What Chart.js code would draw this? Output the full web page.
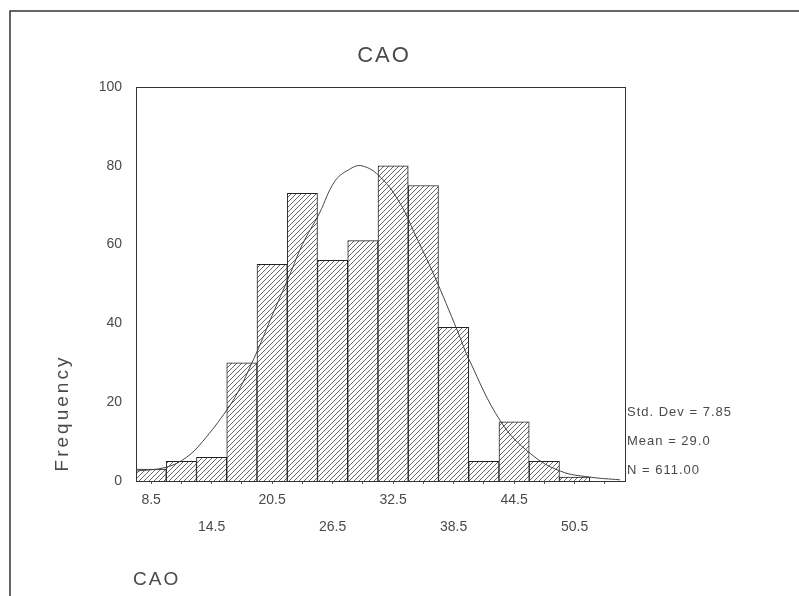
<!DOCTYPE html>
<html>
<head>
<meta charset="utf-8">
<script src="https://cdn.jsdelivr.net/npm/chart.js@4"></script>
<style>
  body { margin: 0; background: #fff; }
  #wrap { width: 799px; height: 596px; }
</style>
</head>
<body>
<div id="wrap"><canvas id="histChart" width="799" height="596"></canvas></div>
<script>
// bin midpoints and counts
const bins = [8.5, 11.5, 14.5, 17.5, 20.5, 23.5, 26.5, 29.5, 32.5, 35.5, 38.5, 41.5, 44.5, 47.5, 50.5, 53.5];
const counts = [3, 5, 6, 30, 55, 73, 56, 61, 80, 75, 39, 5, 15, 5, 1, 0];

// points
const curveX = [7, 10, 12, 13.6, 16, 17.2, 18.5, 19.2, 20.5, 22.2, 23.5, 25.2, 26.7, 28.1, 29.4, 31.3, 33.3, 34.6, 36.6, 38.9, 40, 43.2, 46.1, 49.1, 52, 55];
const curveY = [2.5, 3.5, 6, 10, 18, 23, 30, 34, 42, 52, 60, 68, 76, 79, 80, 77, 70, 63, 52, 38, 31, 15, 7, 2.5, 1, 0.3];

const yTicks = [0, 20, 40, 60, 80, 100];
const statLines = ["Std. Dev = 7.85", "Mean = 29.0", "N = 611.00"];

const FONT = "'Liberation Sans', Arial, sans-serif";
const TEXT = "#4a4a4a";

function hatchPattern() {
  const c = document.createElement("canvas");
  c.width = 5; c.height = 5;
  const g = c.getContext("2d");
  g.fillStyle = "#fff";
  g.fillRect(0, 0, 5, 5);
  g.strokeStyle = "#666";
  g.lineWidth = 1;
  g.beginPath();
  g.moveTo(0, 5); g.lineTo(5, 0);
  g.moveTo(-1, 1); g.lineTo(1, -1);
  g.moveTo(4, 6); g.lineTo(6, 4);
  g.stroke();
  return g.createPattern(c, "repeat");
}

const decor = {
  id: "decor",
  afterDraw(chart) {
    const ctx = chart.ctx;
    const a = chart.chartArea;
    ctx.save();
    // page frame
    ctx.strokeStyle = "#333";
    ctx.lineWidth = 1.5;
    ctx.beginPath();
    ctx.moveTo(10, 596); ctx.lineTo(10, 11); ctx.lineTo(799, 11);
    ctx.stroke();
    // plot frame
    ctx.lineWidth = 1;
    ctx.strokeRect(a.left + 0.5, a.top + 0.5, a.right - a.left, a.bottom - a.top);

    ctx.fillStyle = TEXT;
    ctx.textAlign = "center";
    ctx.textBaseline = "middle";
    ctx.font = "22px " + FONT;
    ctx.letterSpacing = "2px";
    ctx.fillText("CAO", 384, 56);

    ctx.textAlign = "left";
    ctx.font = "19px " + FONT;
    ctx.fillText("CAO", 133, 580);

    ctx.save();
    ctx.translate(63, 413);
    ctx.rotate(-Math.PI / 2);
    ctx.textAlign = "center";
    ctx.font = "19px " + FONT;
    ctx.letterSpacing = "3px";
    ctx.fillText("Frequency", 0, 0);
    ctx.restore();

    ctx.font = "13px " + FONT;
    ctx.letterSpacing = "1px";
    ctx.textAlign = "left";
    statLines.forEach((s, i) => ctx.fillText(s, 627, 412 + i * 29));
    ctx.restore();
  }
};

new Chart(document.getElementById("histChart"), {
  data: {
    datasets: [
      {
        type: "line",
        data: curveX.map((x, i) => ({ x: x, y: curveY[i] })),
        borderColor: "#444",
        borderWidth: 1,
        pointRadius: 0,
        tension: 0.4,
        order: 0
      },
      {
        type: "bar",
        data: bins.map((b, i) => ({ x: b, y: counts[i] })),
        backgroundColor: hatchPattern(),
        borderColor: "#222",
        borderWidth: 1,
        barPercentage: 1,
        categoryPercentage: 1,
        order: 1
      }
    ]
  },
  options: {
    responsive: false,
    animation: false,
    layout: { padding: { top: 87, right: 174, left: 0, bottom: 0 } },
    plugins: { legend: { display: false }, tooltip: { enabled: false } },
    scales: {
      x: {
        type: "linear",
        min: 7,
        max: 55.5,
        offset: false,
        afterFit: s => { s.height = 115; },
        afterBuildTicks: s => { s.ticks = bins.map(v => ({ value: v })); },
        border: { color: "#333" },
        grid: { offset: false, drawOnChartArea: false, tickLength: 3, color: "#555" },
        ticks: {
          autoSkip: false,
          maxRotation: 0,
          padding: 3,
          color: TEXT,
          font: { family: FONT, size: 14, lineHeight: 1.9 },
          callback: (v, i) => i % 4 === 0 ? String(bins[i]) : (i % 4 === 2 ? ["", String(bins[i])] : "")
        }
      },
      y: {
        min: 0,
        max: 100,
        afterFit: s => { s.width = 136; },
        afterBuildTicks: s => { s.ticks = yTicks.map(v => ({ value: v })); },
        border: { color: "#333" },
        grid: { display: false, drawTicks: false },
        ticks: {
          padding: 14,
          color: TEXT,
          font: { family: FONT, size: 14 }
        }
      }
    }
  },
  plugins: [decor]
});
</script>
</body>
</html>
